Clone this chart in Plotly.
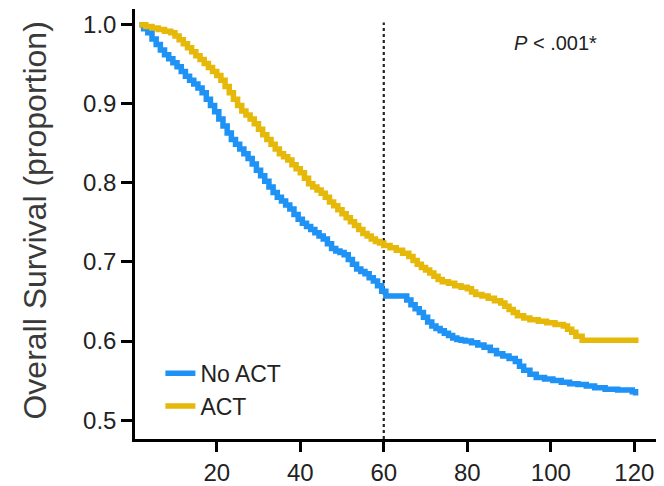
import plotly.graph_objects as go

# Kaplan-Meier estimates (months, survival proportion)
no_act_t = [1.5, 2.5, 3.5, 4.5, 5.5, 6.5, 7.5, 8.5, 9.5, 10.5, 11.5, 12.5, 13.5, 14.5, 15.5, 16.5, 17.5, 18.5,
            19.5, 20.5, 21.5, 22.5, 23.5, 24.5, 25.5, 26.5, 27.5, 28.5, 29.5, 30.5, 31.5, 32.5, 33.5, 34.5, 35.5,
            36.5, 37.5, 38.5, 39.5, 40.5, 41.5, 42.5, 43.5, 44.5, 45.5, 46.5, 47.5, 48.5, 49.5, 50.5, 51.5, 52.5,
            53.5, 54.5, 55.5, 56.5, 57.5, 58.5, 59.5, 60.5, 65.5, 66.5, 67.5, 68.5, 69.5, 70.5, 71.5, 72.5, 73.5,
            74.5, 75.5, 76.5, 77.5, 78.5, 79.5, 81, 82.5, 84, 85.5, 87, 88.5, 90, 91.5, 92.5, 93.5, 95, 96.5, 98.5,
            100.5, 102.5, 104.5, 106.5, 108.5, 110.5, 113, 116, 119.5, 120.3]
no_act_s = [1.0, 0.995, 0.99, 0.982, 0.975, 0.968, 0.962, 0.957, 0.952, 0.947, 0.941, 0.935, 0.93, 0.925, 0.92,
            0.914, 0.906, 0.898, 0.89, 0.881, 0.872, 0.863, 0.855, 0.849, 0.843, 0.837, 0.831, 0.824, 0.816, 0.809,
            0.802, 0.795, 0.788, 0.782, 0.777, 0.772, 0.767, 0.760, 0.754, 0.749, 0.745, 0.741, 0.737, 0.733,
            0.729, 0.723, 0.717, 0.714, 0.712, 0.709, 0.703, 0.697, 0.691, 0.688, 0.685, 0.680, 0.676, 0.670,
            0.663, 0.657, 0.652, 0.646, 0.641, 0.636, 0.630, 0.624, 0.619, 0.616, 0.613, 0.610, 0.607, 0.604,
            0.602, 0.601, 0.600, 0.598, 0.595, 0.592, 0.588, 0.584, 0.581, 0.578, 0.574, 0.568, 0.563, 0.558,
            0.554, 0.552, 0.550, 0.548, 0.546, 0.545, 0.543, 0.541, 0.539, 0.538, 0.536, 0.531]

act_t = [1.5, 3, 4.5, 6, 7.5, 9, 10, 11, 12, 13, 14, 15, 16, 17, 18, 19, 20, 21, 22, 23, 24, 25, 26, 27, 28, 29,
         30, 31, 32, 33, 34, 35, 36, 37, 38, 39, 40, 41, 42, 43, 44, 45, 46, 47, 48, 49, 50, 51, 52, 53, 54, 55,
         56, 57, 58, 59, 60, 61.5, 63, 64.5, 66, 67, 68, 69, 70, 71, 72, 73, 74, 75.5, 77, 78.5, 80, 81, 82, 83.5,
         85, 86.5, 88, 89, 90, 91, 92, 93.5, 95, 97, 99, 101, 103, 104, 105, 106, 107.5, 121]
act_s = [1.0, 0.998, 0.996, 0.994, 0.992, 0.99, 0.986, 0.981, 0.976, 0.971, 0.966, 0.961, 0.956, 0.951, 0.946,
         0.941, 0.936, 0.930, 0.922, 0.914, 0.906, 0.898, 0.891, 0.886, 0.881, 0.875, 0.868, 0.861, 0.855, 0.849,
         0.843, 0.837, 0.833, 0.829, 0.823, 0.818, 0.813, 0.806, 0.799, 0.795, 0.791, 0.787, 0.782, 0.776, 0.771,
         0.766, 0.761, 0.756, 0.751, 0.746, 0.741, 0.736, 0.733, 0.729, 0.726, 0.724, 0.721, 0.718, 0.715, 0.711,
         0.707, 0.702, 0.697, 0.693, 0.690, 0.686, 0.682, 0.678, 0.675, 0.673, 0.670, 0.668, 0.666, 0.662, 0.659,
         0.657, 0.654, 0.651, 0.648, 0.644, 0.640, 0.636, 0.632, 0.629, 0.627, 0.625, 0.623, 0.621, 0.619, 0.615,
         0.611, 0.606, 0.601, 0.601]

x_ticks = [20, 40, 60, 80, 100, 120]
y_ticks = [0.5, 0.6, 0.7, 0.8, 0.9, 1.0]
y_tick_text = ["0.5", "0.6", "0.7", "0.8", "0.9", "1.0"]
landmark = 60

BLUE = "#1f93f5"
GOLD = "#e6b80a"
FONT = "Liberation Sans, Arial, sans-serif"

fig = go.Figure()
fig.add_trace(go.Scatter(x=no_act_t, y=no_act_s, mode="lines", name="No ACT",
                         line=dict(color=BLUE, width=5.5, shape="hv")))
fig.add_trace(go.Scatter(x=act_t, y=act_s, mode="lines", name="ACT",
                         line=dict(color=GOLD, width=5.5, shape="hv")))

fig.add_shape(type="line", x0=landmark, x1=landmark, y0=0.476, y1=1.003, xref="x", yref="y",
              line=dict(color="#222222", width=2.2, dash="dot"), layer="below")

fig.add_annotation(text="<i>P</i> < .001*", xref="paper", yref="paper", x=0.794, y=0.921,
                   xanchor="center", yanchor="middle",
                   showarrow=False, font=dict(family=FONT, size=20, color="#222222"))
fig.add_annotation(text="Overall Survival (proportion)", xref="paper", yref="paper",
                   x=(35 - 135) / 529, y=0.508, textangle=-90, showarrow=False,
                   xanchor="center", yanchor="middle",
                   font=dict(family=FONT, size=32, color="#3a3a3a"))

# page body has an 8px default margin; figure is sized so the plot lands where the reference has it
fig.update_layout(
    width=656, height=478,
    margin=dict(l=127, r=0, t=1, b=44),
    paper_bgcolor="white", plot_bgcolor="white",
    font=dict(family=FONT, size=24, color="#222222"),
    showlegend=True,
    legend=dict(x=0.048, y=0.203, xanchor="left", yanchor="top", bgcolor="rgba(0,0,0,0)",
                font=dict(family=FONT, size=23, color="#222222"), tracegroupgap=0, itemwidth=30),
    xaxis=dict(range=[0.43, 127.1], tickvals=x_ticks, showgrid=False, zeroline=False,
               showline=True, linecolor="black", linewidth=2.5, ticks="outside", ticklen=10,
               tickwidth=2.5, tickcolor="black", tickfont=dict(size=24)),
    yaxis=dict(range=[0.4761, 1.020], tickvals=y_ticks, ticktext=y_tick_text, showgrid=False,
               zeroline=False, showline=True, linecolor="black", linewidth=2.5, ticks="outside",
               ticklen=11, tickwidth=2.5, tickcolor="black", tickfont=dict(size=24)),
)

fig.write_html("out.html")
